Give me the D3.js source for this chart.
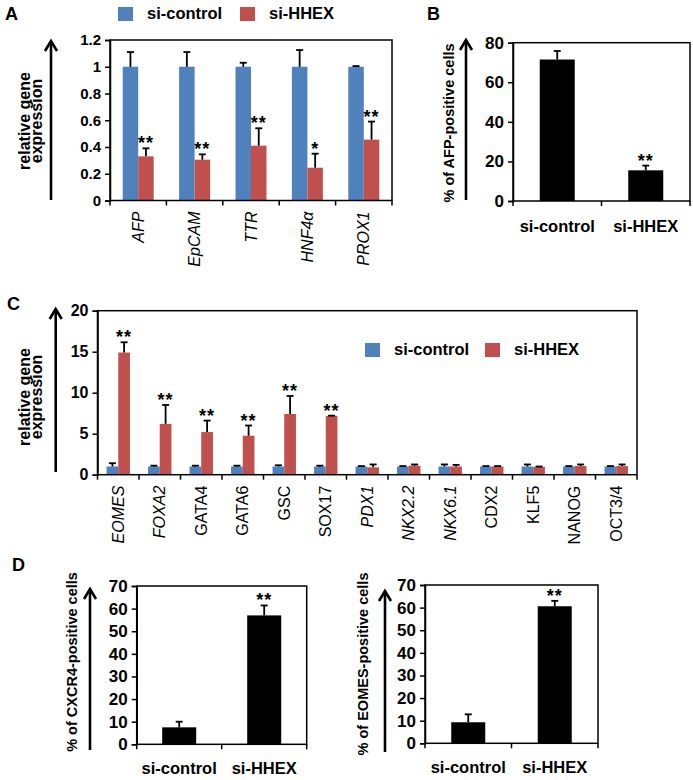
<!DOCTYPE html>
<html>
<head>
<meta charset="utf-8">
<script src="https://cdn.jsdelivr.net/npm/d3@7"></script>
<style>
  body { margin: 0; background: #fff; }
  text { font-family: "Liberation Sans", Arial, sans-serif; }
</style>
</head>
<body>
<script>
// panel A - hepatic genes
const genesA = ["AFP", "EpCAM", "TTR", "HNF4α", "PROX1"];
const ctrlA = [1, 1, 1, 1, 1];
const ctrlAErr = [0.11, 0.11, 0.03, 0.125, 0.005];
const hhexA = [0.33, 0.305, 0.41, 0.245, 0.455];
const hhexAErr = [0.06, 0.04, 0.13, 0.105, 0.135];
const sigA = ["**", "**", "**", "*", "**"];
const ticksA = [0, 0.2, 0.4, 0.6, 0.8, 1, 1.2];

// panel B - AFP positive cells
const groups = ["si-control", "si-HHEX"];
const afpPos = [71.5, 15.5];
const afpPosErr = [4.3, 2.4];
const sigB = ["", "**"];
const ticksB = [0, 20, 40, 60, 80];

// panel C - other lineage genes
const genesC = ["EOMES", "FOXA2", "GATA4", "GATA6", "GSC", "SOX17", "PDX1", "NKX2.2", "NKX6.1", "CDX2", "KLF5", "NANOG", "OCT3/4"];
const ctrlC = [1, 1, 1, 1, 1, 1, 1, 1, 1, 1, 1, 1, 1];
const ctrlCErr = [0.4, 0.1, 0.1, 0.1, 0.15, 0.1, 0.05, 0.05, 0.25, 0.05, 0.25, 0.05, 0.05];
const hhexC = [14.9, 6.2, 5.2, 4.75, 7.4, 7.15, 0.9, 1.1, 1.0, 1.0, 0.95, 1.05, 1.05];
const hhexCErr = [1.25, 2.3, 1.4, 1.25, 2.2, 0.05, 0.35, 0.15, 0.2, 0.05, 0.05, 0.2, 0.2];
const sigC = ["**", "**", "**", "**", "**", "**", "", "", "", "", "", "", ""];
const ticksC = [0, 5, 10, 15, 20];

// panel D - CXCR4 / EOMES positive cells
const cxcr4Pos = [7.5, 57];
const cxcr4PosErr = [2.5, 4.4];
const eomesPos = [9.3, 60.6];
const eomesPosErr = [3.5, 2.4];
const sigD = ["", "**"];
const ticksD = [0, 10, 20, 30, 40, 50, 60, 70];

const BLUE = "#4F81BD", RED = "#C0504D";
const italicGenes = new Set(["AFP", "EpCAM", "TTR", "HNF4α", "PROX1", "EOMES", "FOXA2", "PDX1", "NKX2.2", "NKX6.1"]);

const svg = d3.select("body").append("svg")
  .attr("width", 693)
  .attr("height", 780);
const defs = svg.append("defs");
let pathId = 0;

function panel(o) {
  const x = d3.scaleBand().domain(o.cats).range([o.left, o.right]);
  const y = d3.scaleLinear().domain([0, o.max]).range([o.bottom, o.top]);
  const g = svg.append("g");

  // bars + error bars
  const n = o.series.length;
  o.series.forEach((s, si) => {
    const off = (si - n / 2) * o.barW;
    o.cats.forEach((c, i) => {
      const bx = x(c) + x.bandwidth() / 2 + off;
      g.append("rect")
        .attr("x", bx).attr("y", y(s.vals[i]))
        .attr("width", o.barW).attr("height", y(0) - y(s.vals[i]))
        .attr("fill", s.color);
      const cx = bx + o.barW / 2;
      const top = y(s.vals[i] + s.errs[i]);
      g.append("line")
        .attr("x1", cx).attr("x2", cx)
        .attr("y1", y(s.vals[i])).attr("y2", top)
        .attr("stroke", "#000").attr("stroke-width", 1.8);
      g.append("line")
        .attr("x1", cx - 3.5).attr("x2", cx + 3.5)
        .attr("y1", top).attr("y2", top)
        .attr("stroke", "#000").attr("stroke-width", 1.8);
      if (s.sig && s.sig[i]) {
        g.append("text")
          .attr("x", cx).attr("y", top + 1)
          .attr("text-anchor", "middle")
          .attr("font-size", 18).attr("font-weight", "bold")
          .attr("letter-spacing", 1)
          .text(s.sig[i]);
      }
    });
  });

  // frame
  g.append("rect")
    .attr("x", o.left).attr("y", o.top)
    .attr("width", o.right - o.left).attr("height", o.bottom - o.top)
    .attr("fill", "none").attr("stroke", "#000").attr("stroke-width", 1.5);

  // y axis
  const ya = g.append("g")
    .attr("transform", `translate(${o.left},0)`)
    .call(d3.axisLeft(y).tickValues(o.ticks).tickSize(5).tickPadding(4).tickFormat(d3.format("~g")));
  ya.select(".domain").attr("stroke-width", 1.5);
  ya.selectAll(".tick line").attr("stroke-width", 1.5);
  ya.selectAll(".tick text")
    .attr("font-size", o.tickSize).attr("font-weight", "bold")
    .attr("font-family", "Liberation Sans, Arial, sans-serif").attr("fill", "#000");

  // category boundary ticks on the x axis
  const bounds = o.cats.map(c => x(c)).concat([o.right]);
  g.selectAll(null).data(bounds).enter().append("line")
    .attr("x1", d => d).attr("x2", d => d)
    .attr("y1", o.bottom).attr("y2", o.bottom + 5)
    .attr("stroke", "#000").attr("stroke-width", 1.5);

  // x labels: gene names run upward along a vertical path
  o.cats.forEach(c => {
    const cx = x(c) + x.bandwidth() / 2;
    if (o.rotate) {
      const id = "lab" + (pathId++);
      const px = cx + 5.5, py = o.bottom + o.labelGap;
      defs.append("path").attr("id", id).attr("d", `M${px},${py + 150} L${px},${py}`);
      g.append("text")
        .attr("font-size", 16)
        .attr("font-style", italicGenes.has(c) ? "italic" : "normal")
        .append("textPath")
        .attr("href", "#" + id)
        .attr("startOffset", "100%")
        .attr("text-anchor", "end")
        .text(c);
    } else {
      g.append("text")
        .attr("x", cx).attr("y", o.bottom + o.labelGap)
        .attr("text-anchor", "middle")
        .attr("font-size", 16.5).attr("font-weight", "bold")
        .text(c);
    }
  });
  return { x, y };
}

function arrow(x, y1, y2) {
  svg.append("line")
    .attr("x1", x).attr("x2", x).attr("y1", y1).attr("y2", y2 + 1)
    .attr("stroke", "#000").attr("stroke-width", 2.6);
  svg.append("path")
    .attr("d", `M${x - 6},${y2 + 11} L${x},${y2 + 1} L${x + 6},${y2 + 11}`)
    .attr("fill", "none").attr("stroke", "#000").attr("stroke-width", 2.6);
}

function yTitle(lines, x, cy, size) {
  const t = svg.append("text")
    .attr("transform", `translate(${x},${cy}) rotate(-90)`)
    .attr("text-anchor", "middle")
    .attr("font-size", size).attr("font-weight", "bold");
  lines.forEach((l, i) => t.append("tspan").attr("x", 0).attr("dy", i ? 12 : 0).text(l));
}

function panelLetter(s, x, y) {
  svg.append("text").attr("x", x).attr("y", y)
    .attr("font-size", 18).attr("font-weight", "bold").text(s);
}

function legend(x, y, gap) {
  [["si-control", BLUE], ["si-HHEX", RED]].forEach((d, i) => {
    const lx = x + i * gap;
    svg.append("rect").attr("x", lx).attr("y", y).attr("width", 15).attr("height", 14).attr("fill", d[1]);
    svg.append("text").attr("x", lx + 29).attr("y", y + 12)
      .attr("font-size", 16.5).attr("font-weight", "bold").text(d[0]);
  });
}

// ---- A ----
panelLetter("A", 5, 20);
legend(118, 7, 122);
arrow(51, 200, 40);
yTitle(["relative gene", "expression"], 30, 121, 16);
panel({
  cats: genesA, left: 110, right: 392, top: 40, bottom: 200.5, max: 1.2, ticks: ticksA,
  tickSize: 15, barW: 15.5, rotate: true, labelGap: 11,
  series: [
    { vals: ctrlA, errs: ctrlAErr, color: BLUE },
    { vals: hhexA, errs: hhexAErr, color: RED, sig: sigA }
  ]
});

// ---- B ----
panelLetter("B", 427, 20);
arrow(466, 200, 39);
yTitle(["% of AFP-positive cells"], 454, 123, 14.5);
panel({
  cats: groups, left: 513, right: 690, top: 42.7, bottom: 201, max: 80, ticks: ticksB,
  tickSize: 17, barW: 35, rotate: false, labelGap: 31,
  series: [{ vals: afpPos, errs: afpPosErr, color: "#000", sig: sigB }]
});

// ---- C ----
panelLetter("C", 7, 310);
legend(365, 343, 120);
arrow(55.7, 472, 308);
yTitle(["relative gene", "expression"], 30, 397, 16);
panel({
  cats: genesC, left: 97.5, right: 637, top: 310.7, bottom: 474.7, max: 20, ticks: ticksC,
  tickSize: 16, barW: 11.7, rotate: true, labelGap: 11,
  series: [
    { vals: ctrlC, errs: ctrlCErr, color: BLUE },
    { vals: hhexC, errs: hhexCErr, color: RED, sig: sigC }
  ]
});

// ---- D ----
panelLetter("D", 12, 571);
arrow(90, 750, 588);
yTitle(["% of CXCR4-positive cells"], 77, 662, 14.5);
panel({
  cats: groups, left: 136.7, right: 306.7, top: 586, bottom: 744.3, max: 70, ticks: ticksD,
  tickSize: 17, barW: 34, rotate: false, labelGap: 30,
  series: [{ vals: cxcr4Pos, errs: cxcr4PosErr, color: "#000", sig: sigD }]
});

arrow(385, 752, 590);
yTitle(["% of EOMES-positive cells"], 368, 664, 14.5);
panel({
  cats: groups, left: 425, right: 598, top: 585, bottom: 743.3, max: 70, ticks: ticksD,
  tickSize: 17, barW: 34, rotate: false, labelGap: 30,
  series: [{ vals: eomesPos, errs: eomesPosErr, color: "#000", sig: sigD }]
});
</script>
</body>
</html>
